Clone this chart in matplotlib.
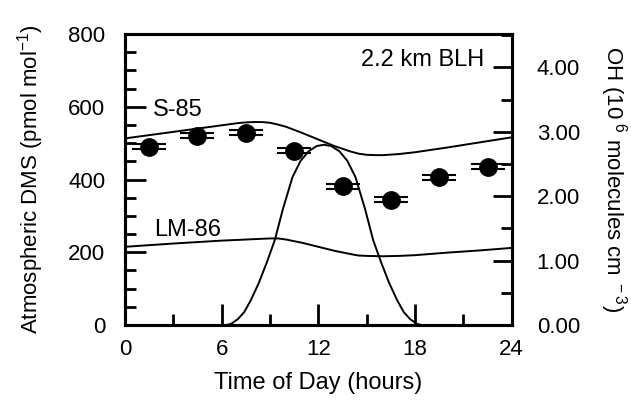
import matplotlib.pyplot as plt
from matplotlib.ticker import MultipleLocator, FormatStrFormatter

plt.rcParams['font.family'] = ['Liberation Sans', 'DejaVu Sans']

# measured DMS (points with error bars)
obs_hour = [1.5, 4.5, 7.5, 10.5, 13.5, 16.5, 19.5, 22.5]
obs_dms = [490, 520, 529, 479, 382, 345, 406, 435]
obs_err = [7, 7, 7, 7, 7, 7, 7, 7]

# model curves (S-85 and LM-86 DMS)
s85_hour = [0, 2, 4, 6, 7, 7.5, 8, 8.5, 9, 9.5, 10, 11, 12, 13, 14, 14.5, 15, 15.5, 16, 17, 18, 20, 22, 24]
s85_dms = [513, 525, 537, 549, 555, 557, 558, 558, 556, 551, 545, 528, 510, 492, 477, 471, 468, 467, 467, 470, 475, 488, 502, 516]

lm86_hour = [0, 3, 6, 8, 9, 9.5, 10, 11, 12, 13, 14, 14.5, 15, 16, 17, 18, 20, 22, 24]
lm86_dms = [215, 224, 232, 236, 238, 238, 235, 226, 215, 204, 195, 191, 190, 189, 190, 192, 199, 205, 212]

# OH concentration (10^6 molecules cm-3)
oh_hour = [0, 6.3, 6.6, 7.0, 7.4, 7.8, 8.3, 8.8, 9.3, 9.8, 10.4, 10.9, 11.4, 11.9, 12.35,
           12.8, 13.3, 13.8, 14.3, 14.9, 15.4, 15.9, 16.4, 16.9, 17.3, 17.7, 18.1, 18.4, 24]
oh_val = [0, 0, 0.02, 0.09, 0.2, 0.38, 0.65, 0.97, 1.32, 1.8, 2.3, 2.55, 2.7, 2.78, 2.8,
          2.78, 2.7, 2.55, 2.3, 1.8, 1.32, 0.97, 0.65, 0.38, 0.2, 0.09, 0.02, 0, 0]

fig = plt.figure(figsize=(6.31, 4.05), dpi=100)
ax = fig.add_axes([0.198, 0.1975, 0.613, 0.7185])
ax2 = ax.twinx()

ax.plot(s85_hour, s85_dms, color='black', lw=1.4)
ax.plot(lm86_hour, lm86_dms, color='black', lw=1.4)
ax2.plot(oh_hour, oh_val, color='black', lw=1.4)
ax.errorbar(obs_hour, obs_dms, yerr=obs_err, fmt='o', color='black',
            ms=12.5, capsize=12, capthick=1.5, elinewidth=1.5, zorder=5)

ax.set_xlim(0, 24)
ax.set_ylim(0, 800)
ax2.set_ylim(0, 4.52)

ax.xaxis.set_major_locator(MultipleLocator(6))
ax.xaxis.set_minor_locator(MultipleLocator(3))
ax.yaxis.set_major_locator(MultipleLocator(200))
ax.yaxis.set_minor_locator(MultipleLocator(50))
ax2.yaxis.set_major_locator(MultipleLocator(1))
ax2.yaxis.set_minor_locator(MultipleLocator(0.5))
ax2.yaxis.set_major_formatter(FormatStrFormatter('%.2f'))

ax.tick_params(axis='both', which='both', direction='in', width=2, labelsize=16,
               top=False, right=False)
ax.tick_params(axis='both', which='major', length=15)
ax.tick_params(axis='both', which='minor', length=8)
ax.tick_params(axis='y', pad=14)
ax.tick_params(axis='x', pad=10)
ax2.tick_params(axis='y', which='both', direction='in', width=2, labelsize=16)
ax2.tick_params(axis='y', which='major', length=14, pad=18)
ax2.tick_params(axis='y', which='minor', length=8, pad=18)

for a in (ax, ax2):
    for sp in a.spines.values():
        sp.set_linewidth(2.2)

ax.set_xlabel('Time of Day (hours)', fontsize=17, labelpad=9)
ax.set_ylabel('Atmospheric DMS (pmol mol$^{\\mathregular{-1}}$)', fontsize=16, labelpad=16)
ax2.set_ylabel('OH (10$^{\\mathregular{\\ 6}}$ molecules cm$^{\\mathregular{\\ -3}}$)', fontsize=16,
               rotation=270, ha='center', va='center')
ax2.yaxis.set_label_coords(1.264, 0.5)

ax.text(3.3, 591, 'S-85', fontsize=17, ha='center', va='center')
ax.text(3.9, 261, 'LM-86', fontsize=17, ha='center', va='center')
ax.text(22.3, 728, '2.2 km BLH', fontsize=17, ha='right', va='center')

fig.savefig('out.png', dpi=100)
